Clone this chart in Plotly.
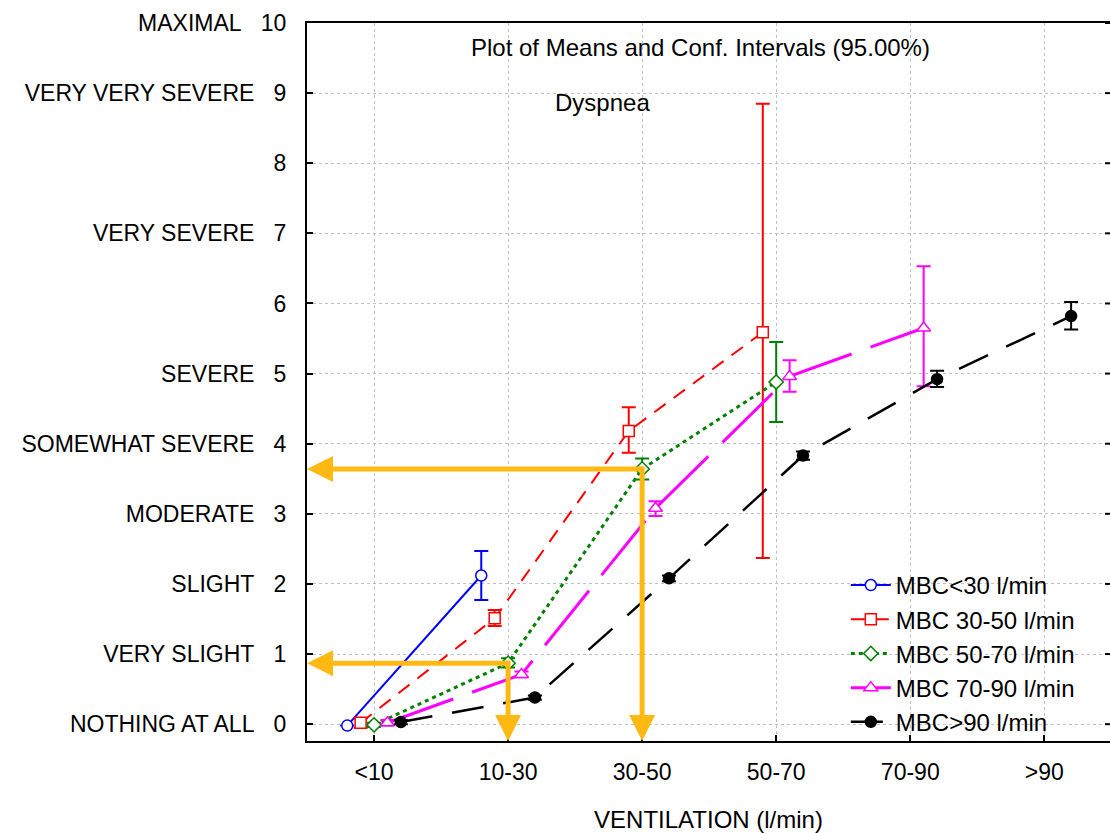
import plotly.graph_objects as go

# ---------------- data ----------------
categories = ["<10", "10-30", "30-50", "50-70", "70-90", ">90"]
y_labels = ["NOTHING AT ALL", "VERY SLIGHT", "SLIGHT", "MODERATE", "SOMEWHAT SEVERE",
            "SEVERE", "", "VERY SEVERE", "", "VERY VERY SEVERE", "MAXIMAL"]
y_values = list(range(0, 11))

series_names = ["MBC<30 l/min", "MBC 30-50 l/min", "MBC 50-70 l/min",
                "MBC 70-90 l/min", "MBC>90 l/min"]

blue_mean = [-0.02, 2.12]
blue_lo = [-0.02, 1.77]
blue_hi = [-0.02, 2.47]

red_mean = [0.02, 1.51, 4.18, 5.59]
red_lo = [-0.05, 1.40, 3.87, 2.37]
red_hi = [0.08, 1.63, 4.52, 8.85]

green_mean = [-0.01, 0.87, 3.64, 4.88]
green_lo = [-0.04, 0.81, 3.49, 4.31]
green_hi = [0.02, 0.94, 3.79, 5.45]

magenta_mean = [0.02, 0.71, 3.08, 4.96, 5.65]
magenta_lo = [-0.02, 0.67, 2.97, 4.74, 4.82]
magenta_hi = [0.06, 0.75, 3.18, 5.19, 6.53]

black_mean = [0.03, 0.38, 2.08, 3.83, 4.92, 5.82]
black_lo = [0.00, 0.35, 2.04, 3.77, 4.81, 5.63]
black_hi = [0.06, 0.41, 2.12, 3.89, 5.04, 6.02]

# ---------------- style ----------------
FONT = "Liberation Sans, Arial, sans-serif"
ORANGE = "#FFB912"
X_MIN, X_MAX = -0.5, 5.49
Y_MIN, Y_MAX = -0.24, 10.0
W, H = 1110, 833
M_L, M_R, M_T, M_B = 307, 0, 23, 92
PX_X = (W - M_L - M_R) / (X_MAX - X_MIN)
PX_Y = (H - M_T - M_B) / (Y_MAX - Y_MIN)

styles = [
    dict(color="#0000FF", dash="solid", width=2, symbol="circle", fill="white", size=11, offset=-0.2),
    dict(color="#FF0000", dash="14px,10px", width=2, symbol="square", fill="white", size=11, offset=-0.1),
    dict(color="#008000", dash="4px,4px", width=3, symbol="diamond", fill="white", size=11, offset=0.0),
    dict(color="#FF00FF", dash="70px,20px", width=3, symbol="triangle-up", fill="white", size=12, offset=0.1),
    dict(color="#000000", dash="32px,20px", width=2.5, symbol="circle", fill="black", size=11, offset=0.2),
]
all_series = [
    (blue_mean, blue_lo, blue_hi),
    (red_mean, red_lo, red_hi),
    (green_mean, green_lo, green_hi),
    (magenta_mean, magenta_lo, magenta_hi),
    (black_mean, black_lo, black_hi),
]

fig = go.Figure()
for name, (mean, lo, hi), st in zip(series_names, all_series, styles):
    xs = [i + st["offset"] for i in range(len(mean))]
    fig.add_trace(go.Scatter(
        x=xs, y=mean, name=name, mode="lines+markers",
        line=dict(color=st["color"], dash=st["dash"], width=st["width"]),
        marker=dict(symbol=st["symbol"], size=st["size"], color=st["fill"],
                    line=dict(color=st["color"], width=1.5)),
        error_y=dict(type="data", symmetric=False,
                     array=[h - m for h, m in zip(hi, mean)],
                     arrayminus=[m - l for m, l in zip(mean, lo)],
                     color=st["color"], thickness=2, width=7),
        legendgroup=name,
    ))

# ---------------- orange reading arrows (from green series) ----------------
head_len_x = 26 / PX_X
head_half_y = 13 / PX_Y
head_len_y = 26 / PX_Y
head_half_x = 13 / PX_X
shapes = []
for idx in [1, 2]:
    gx = idx + styles[2]["offset"]
    gy = green_mean[idx]
    shapes.append(dict(type="line", xref="x", yref="y", x0=gx, y0=gy, x1=X_MIN + head_len_x, y1=gy,
                       line=dict(color=ORANGE, width=5)))
    shapes.append(dict(type="path", xref="x", yref="y",
                       path=f"M {X_MIN},{gy} L {X_MIN + head_len_x},{gy + head_half_y} L {X_MIN + head_len_x},{gy - head_half_y} Z",
                       fillcolor=ORANGE, line=dict(color=ORANGE, width=0)))
    shapes.append(dict(type="line", xref="x", yref="y", x0=gx, y0=gy + 0.035, x1=gx, y1=Y_MIN + head_len_y,
                       line=dict(color=ORANGE, width=5)))
    shapes.append(dict(type="path", xref="x", yref="y",
                       path=f"M {gx},{Y_MIN} L {gx - head_half_x},{Y_MIN + head_len_y} L {gx + head_half_x},{Y_MIN + head_len_y} Z",
                       fillcolor=ORANGE, line=dict(color=ORANGE, width=0)))

# right-side inward ticks (no right axis line in the reference)
for v in y_values:
    shapes.append(dict(type="line", xref="x", yref="y", x0=X_MAX - 5 / PX_X, x1=X_MAX, y0=v, y1=v,
                       line=dict(color="black", width=2)))

NB = "\u00a0"
ytext = [(lab + NB * 3 + str(v)) if lab else str(v) for lab, v in zip(y_labels, y_values)]

fig.update_layout(
    width=W, height=H,
    margin=dict(l=M_L, r=M_R, t=M_T, b=M_B, pad=0),
    paper_bgcolor="white", plot_bgcolor="white",
    font=dict(family=FONT, size=22, color="black"),
    shapes=shapes,
    showlegend=True,
    legend=dict(x=0.671, y=0.248, xanchor="left", yanchor="top",
                bgcolor="rgba(0,0,0,0)", borderwidth=0,
                font=dict(family=FONT, size=24, color="black"),
                tracegroupgap=0, itemwidth=40),
    annotations=[
        dict(text="Plot of Means and Conf. Intervals (95.00%)", xref="paper", yref="paper",
             x=(700 - M_L) / (W - M_L - M_R), y=(H - M_B - 47) / (H - M_T - M_B),
             showarrow=False, xanchor="center", yanchor="middle",
             font=dict(family=FONT, size=24, color="black")),
        dict(text="Dyspnea", xref="paper", yref="paper",
             x=(602 - M_L) / (W - M_L - M_R), y=(H - M_B - 103) / (H - M_T - M_B),
             showarrow=False, xanchor="center", yanchor="middle",
             font=dict(family=FONT, size=24, color="black")),
    ],
)
fig.update_xaxes(
    range=[X_MIN, X_MAX], tickmode="array", tickvals=list(range(len(categories))), ticktext=categories,
    showline=True, linecolor="black", linewidth=2, mirror=True,
    ticks="inside", ticklen=6, tickwidth=2, tickcolor="black",
    showgrid=True, gridcolor="#C0C0C0", griddash="3px,3px", gridwidth=1,
    zeroline=False, ticklabelstandoff=9, tickfont=dict(size=23),
    title=dict(text="VENTILATION (l/min)", font=dict(family=FONT, size=24), standoff=28),
)
fig.update_yaxes(
    range=[Y_MIN, Y_MAX], tickmode="array", tickvals=y_values, ticktext=ytext,
    showline=True, linecolor="black", linewidth=2, mirror=False,
    ticks="inside", ticklen=6, tickwidth=2, tickcolor="black",
    showgrid=True, gridcolor="#C0C0C0", griddash="3px,3px", gridwidth=1,
    zeroline=False, ticklabelstandoff=14, tickfont=dict(size=23),
)

fig.write_html("out.html")
